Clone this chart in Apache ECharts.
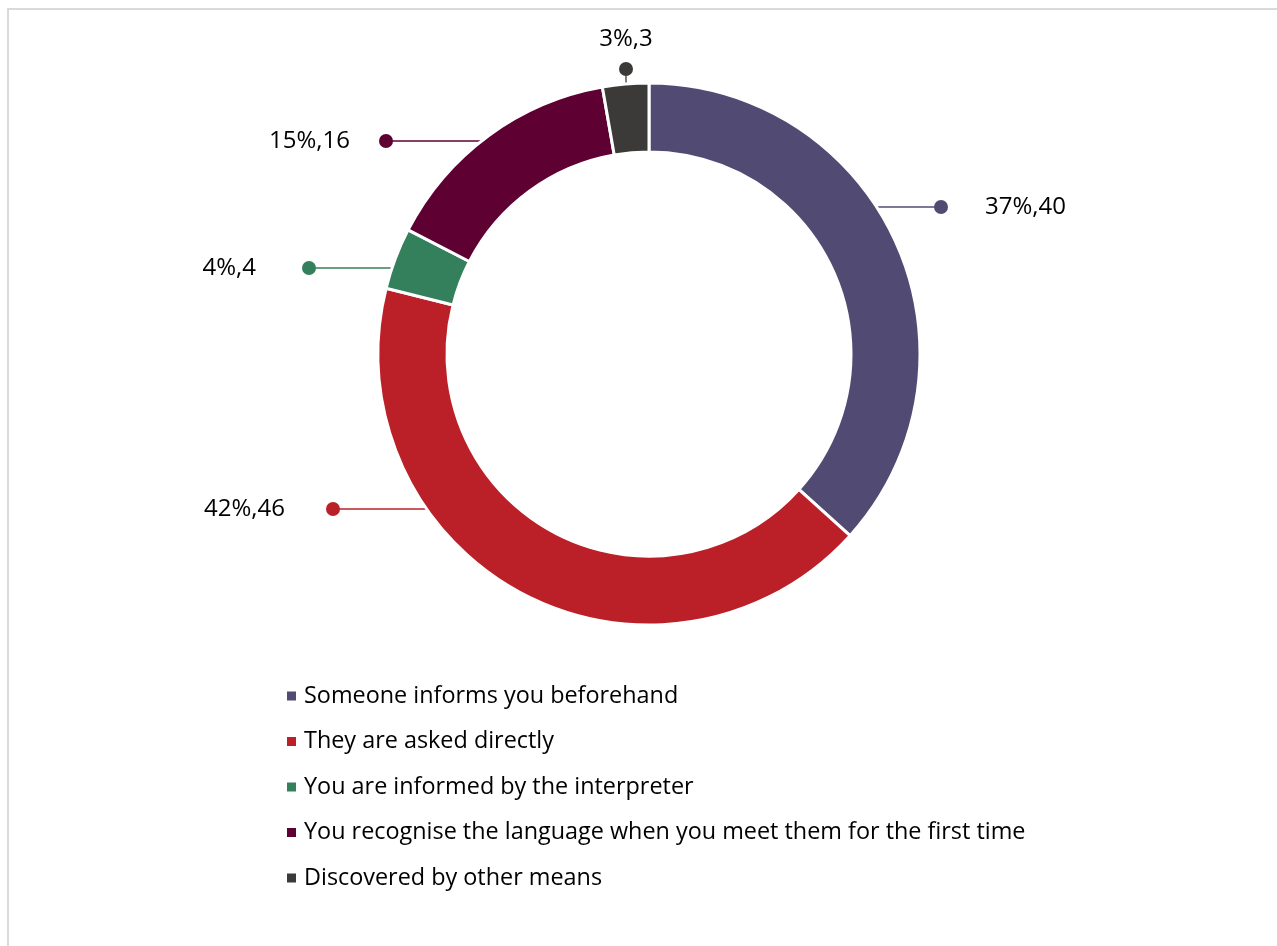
<!DOCTYPE html>
<html>
<head>
<meta charset="utf-8">
<script src="https://cdn.jsdelivr.net/npm/echarts@6/dist/echarts.min.js"></script>
<style>
  html, body { margin: 0; padding: 0; background: #ffffff; }
  #frame {
    position: absolute; left: 7px; top: 8px; width: 1300px; height: 960px;
    border-left: 2px solid #d9d9d9; border-top: 2px solid #d9d9d9;
  }
  #chart { position: absolute; left: 0; top: 0; width: 1277px; height: 946px; }
</style>
</head>
<body>
<div id="frame"></div>
<div id="chart"></div>
<script>
// How interpreters learn the language of the person they assist
const categories = [
  'Someone informs you beforehand',
  'They are asked directly',
  'You are informed by the interpreter',
  'You recognise the language when you meet them for the first time',
  'Discovered by other means'
];
const counts = [40, 46, 4, 16, 3];
const colors = ['#514b73', '#bb2028', '#347f5c', '#5e0032', '#3b3a39'];

// Ring geometry (px)
const CX = 649, CY = 354, R_IN = 202, R_OUT = 271;

// Callout placement: dot centre and gap between dot and text, per slice
const callouts = [
  { dx: 941, dy: 207, side: 'right', gap: 37 },
  { dx: 333, dy: 509, side: 'left', gap: 41 },
  { dx: 309, dy: 268, side: 'left', gap: 46 },
  { dx: 386, dy: 141, side: 'left', gap: 29 },
  { dx: 626, dy: 69, side: 'top', gap: 0 }
];

const total = counts.reduce((a, b) => a + b, 0);
const FONT = '"Open Sans", "Liberation Sans", sans-serif';

const data = categories.map((name, i) => {
  const pct = Math.round(counts[i] / total * 100) + '%,' + counts[i];
  const c = callouts[i];
  let fmt;
  if (c.side === 'right') fmt = '{d|}{g|}{t|' + pct + '}';
  else if (c.side === 'left') fmt = '{t|' + pct + '}{g|}{d|}';
  else fmt = '{t|' + pct + '}\n{d|}';
  return {
    name: name,
    value: counts[i],
    itemStyle: { color: colors[i] },
    labelLine: { lineStyle: { color: colors[i], width: 1.3 } },
    label: {
      formatter: fmt,
      rich: {
        d: { width: 14, height: 14, borderRadius: 7, backgroundColor: colors[i], verticalAlign: 'middle', align: 'center' },
        g: { width: c.gap, height: 14 },
        t: { fontFamily: FONT, fontSize: 24, color: '#000', lineHeight: c.side === 'top' ? 46 : 30, verticalAlign: 'middle', align: 'center' }
      }
    }
  };
});

const chart = echarts.init(document.getElementById('chart'), null, { renderer: 'canvas' });
chart.setOption({
  backgroundColor: 'transparent',
  animation: false,
  legend: {
    orient: 'vertical',
    left: 280,
    top: 676,
    icon: 'rect',
    itemWidth: 11,
    itemHeight: 11,
    itemGap: 15.5,
    data: categories,
    textStyle: { fontFamily: FONT, fontSize: 23.4, color: '#000', lineHeight: 30, padding: [0, 0, 0, 2] }
  },
  series: [{
    type: 'pie',
    center: [CX, CY],
    radius: [R_IN, R_OUT],
    startAngle: 90,
    clockwise: true,
    avoidLabelOverlap: false,
    itemStyle: { borderColor: '#ffffff', borderWidth: 3 },
    label: { show: true, position: 'outside' },
    labelLine: { show: true, length: 10, length2: 10 },
    emphasis: { disabled: true },
    labelLayout: function (params) {
      const c = callouts[params.dataIndex];
      let start;
      if (c.side === 'top') {
        start = [c.dx, CY - Math.sqrt(R_OUT * R_OUT - (c.dx - CX) * (c.dx - CX)) + 1];
        return {
          x: c.dx, y: c.dy + 7, align: 'center', verticalAlign: 'bottom',
          labelLinePoints: [start, [c.dx, c.dy], [c.dx, c.dy]]
        };
      }
      const half = Math.sqrt(R_OUT * R_OUT - (c.dy - CY) * (c.dy - CY)) - 1;
      start = [c.side === 'right' ? CX + half : CX - half, c.dy];
      return {
        x: c.side === 'right' ? c.dx - 7 : c.dx + 7,
        y: c.dy,
        align: c.side === 'right' ? 'left' : 'right',
        verticalAlign: 'middle',
        labelLinePoints: [start, [c.dx, c.dy], [c.dx, c.dy]]
      };
    },
    data: data
  }]
});
</script>
</body>
</html>
